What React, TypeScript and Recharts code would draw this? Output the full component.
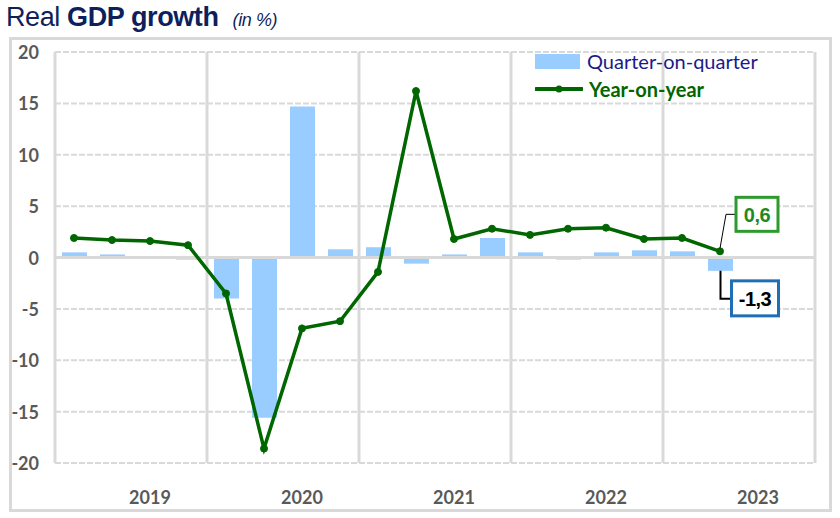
import { Bar, ComposedChart, Line, XAxis, YAxis, CartesianGrid, ReferenceLine, LabelList, Rectangle } from "recharts";

// quarters 2019Q1 .. 2023Q4 (last two not yet published)
const quarters = [
  "2019Q1", "2019Q2", "2019Q3", "2019Q4",
  "2020Q1", "2020Q2", "2020Q3", "2020Q4",
  "2021Q1", "2021Q2", "2021Q3", "2021Q4",
  "2022Q1", "2022Q2", "2022Q3", "2022Q4",
  "2023Q1", "2023Q2", "2023Q3", "2023Q4",
];
const qoq = [0.5, 0.3, 0.0, -0.2, -4.0, -15.6, 14.7, 0.8, 1.0, -0.6, 0.3, 1.9, 0.5, -0.2, 0.5, 0.7, 0.6, -1.3, null, null];
const yoy = [1.9, 1.7, 1.6, 1.2, -3.5, -18.6, -6.9, -6.2, -1.4, 16.2, 1.8, 2.8, 2.2, 2.8, 2.9, 1.8, 1.9, 0.6, null, null];
const yTicks = [-20, -15, -10, -5, 0, 5, 10, 15, 20];
const lastIdx = 17;

const data = quarters.map((q, i) => ({ q, qoq: qoq[i], yoy: yoy[i] }));

const GRID = "#d9d9d9";
const TICK = "#595959";
const GREEN = "#006600";
const BLUE_BAR = "#99ccff";
const NAVY = "#0d1f5c";
const fmt = (v: number) => String(v).replace(".", ",");

const YTick = (p: any) => (
  <text x={p.x - 8} y={p.y} textAnchor="end" dominantBaseline="central" fontFamily="Lato" fontWeight={700} fontSize={18} fill={TICK}>
    {p.payload.value}
  </text>
);

const XTick = (p: any) => {
  const q: string = p.payload.value;
  if (!q.endsWith("Q3")) return null;
  return (
    <text x={p.x} y={p.y + 26} textAnchor="middle" dominantBaseline="central" fontFamily="Lato" fontWeight={700} fontSize={18} fill={TICK}>
      {q.slice(0, 4)}
    </text>
  );
};

const yoyLabel = (p: any) => {
  if (p.index !== lastIdx) return null;
  const x = p.x, y = p.y;
  return (
    <g>
      <polyline points={`${x},${y - 3} ${x + 6},${y - 37} ${x + 16},${y - 37}`} fill="none" stroke="#000" strokeWidth={1} />
      <rect x={x + 16} y={y - 54} width={42} height={34} fill="#fff" stroke="#2e9a2e" strokeWidth={3} />
      <text x={x + 37} y={y - 36} textAnchor="middle" dominantBaseline="central" fontFamily="Liberation Sans" fontWeight={700} fontSize={20} fill="#1f8a1f" letterSpacing={-0.5}>
        {fmt(p.value)}
      </text>
    </g>
  );
};

// bar shape: plain rectangle, plus the callout box under the latest quarter
const QoqShape = (p: any) => {
  const rect = <Rectangle x={p.x} y={p.y} width={p.width} height={p.height} fill={BLUE_BAR} />;
  if (p.index !== lastIdx) return rect;
  const cx = p.x + p.width / 2;
  const bottom = Math.max(p.y, p.y + p.height);
  return (
    <g>
      {rect}
      <polyline points={`${cx},${bottom} ${cx},${bottom + 28} ${cx + 11},${bottom + 28}`} fill="none" stroke="#000" strokeWidth={2} />
      <rect x={cx + 11} y={bottom + 10} width={47} height={35} fill="#fff" stroke="#1f6fb5" strokeWidth={3} />
      <text x={cx + 34.5} y={bottom + 28} textAnchor="middle" dominantBaseline="central" fontFamily="Liberation Sans" fontWeight={700} fontSize={20} fill="#000" letterSpacing={-0.5}>
        {fmt(p.qoq)}
      </text>
    </g>
  );
};

const LegendBox = () => (
  <div style={{ fontFamily: "Lato", fontSize: 20, lineHeight: "26px" }}>
    <div style={{ display: "flex", alignItems: "center" }}>
      <span style={{ display: "inline-block", width: 45, height: 15, background: BLUE_BAR, marginRight: 7 }} />
      <span style={{ color: "#1a1a8a" }}>Quarter-on-quarter</span>
    </div>
    <div style={{ display: "flex", alignItems: "center", marginTop: 2 }}>
      <svg width={48} height={10} style={{ marginRight: 6 }}>
        <line x1={1} y1={5} x2={47} y2={5} stroke={GREEN} strokeWidth={4} strokeLinecap="round" />
        <circle cx={24} cy={5} r={3.5} fill={GREEN} />
      </svg>
      <span style={{ color: GREEN, fontWeight: 700 }}>Year-on-year</span>
    </div>
  </div>
);

export default function App() {
  return (
    <div style={{ position: "absolute", left: 0, top: 0, width: 840, height: 518, background: "#fff", overflow: "hidden" }}>
      <div style={{ position: "absolute", left: 9, top: 37, width: 817, height: 469, border: `3px solid ${GRID}` }} />
      <div style={{ position: "absolute", left: 6, top: 2, fontFamily: "Liberation Sans", color: NAVY, whiteSpace: "nowrap", letterSpacing: -0.4 }}>
        <span style={{ fontSize: 27 }}>Real </span>
        <span style={{ fontSize: 27, fontWeight: 700 }}>GDP growth</span>
        <span style={{ fontSize: 18, fontStyle: "italic", marginLeft: 14 }}>(in %)</span>
      </div>
      <div style={{ position: "absolute", left: 0, top: 0 }}>
        <ComposedChart width={840} height={518} data={data} margin={{ top: 52, right: 25, bottom: 10, left: 15 }} barCategoryGap={0}>
          <CartesianGrid vertical={false} stroke={GRID} strokeWidth={2} strokeDasharray="6 2" />
          <CartesianGrid
            horizontal={false}
            stroke={GRID}
            strokeWidth={3}
            verticalCoordinatesGenerator={({ offset }: any) => [0, 4, 8, 12, 16, 20].map((k) => offset.left + (offset.width * k) / quarters.length)}
          />
          <ReferenceLine y={0} stroke={GRID} strokeWidth={3} />
          <XAxis dataKey="q" interval={0} axisLine={false} tickLine={false} height={45} tick={<XTick />} />
          <YAxis domain={[-20, 20]} ticks={yTicks} axisLine={false} tickLine={false} width={40} tick={<YTick />} />
          <Bar dataKey="qoq" fill={BLUE_BAR} barSize={25} shape={QoqShape} isAnimationActive={false} />
          <Line
            dataKey="yoy"
            stroke={GREEN}
            strokeWidth={3.5}
            dot={{ r: 3.5, fill: GREEN, stroke: GREEN, strokeWidth: 1 }}
            activeDot={false}
            isAnimationActive={false}
          >
            <LabelList dataKey="yoy" content={yoyLabel} />
          </Line>
        </ComposedChart>
      </div>
      <div style={{ position: "absolute", left: 535, top: 48 }}>
        <LegendBox />
      </div>
    </div>
  );
}
